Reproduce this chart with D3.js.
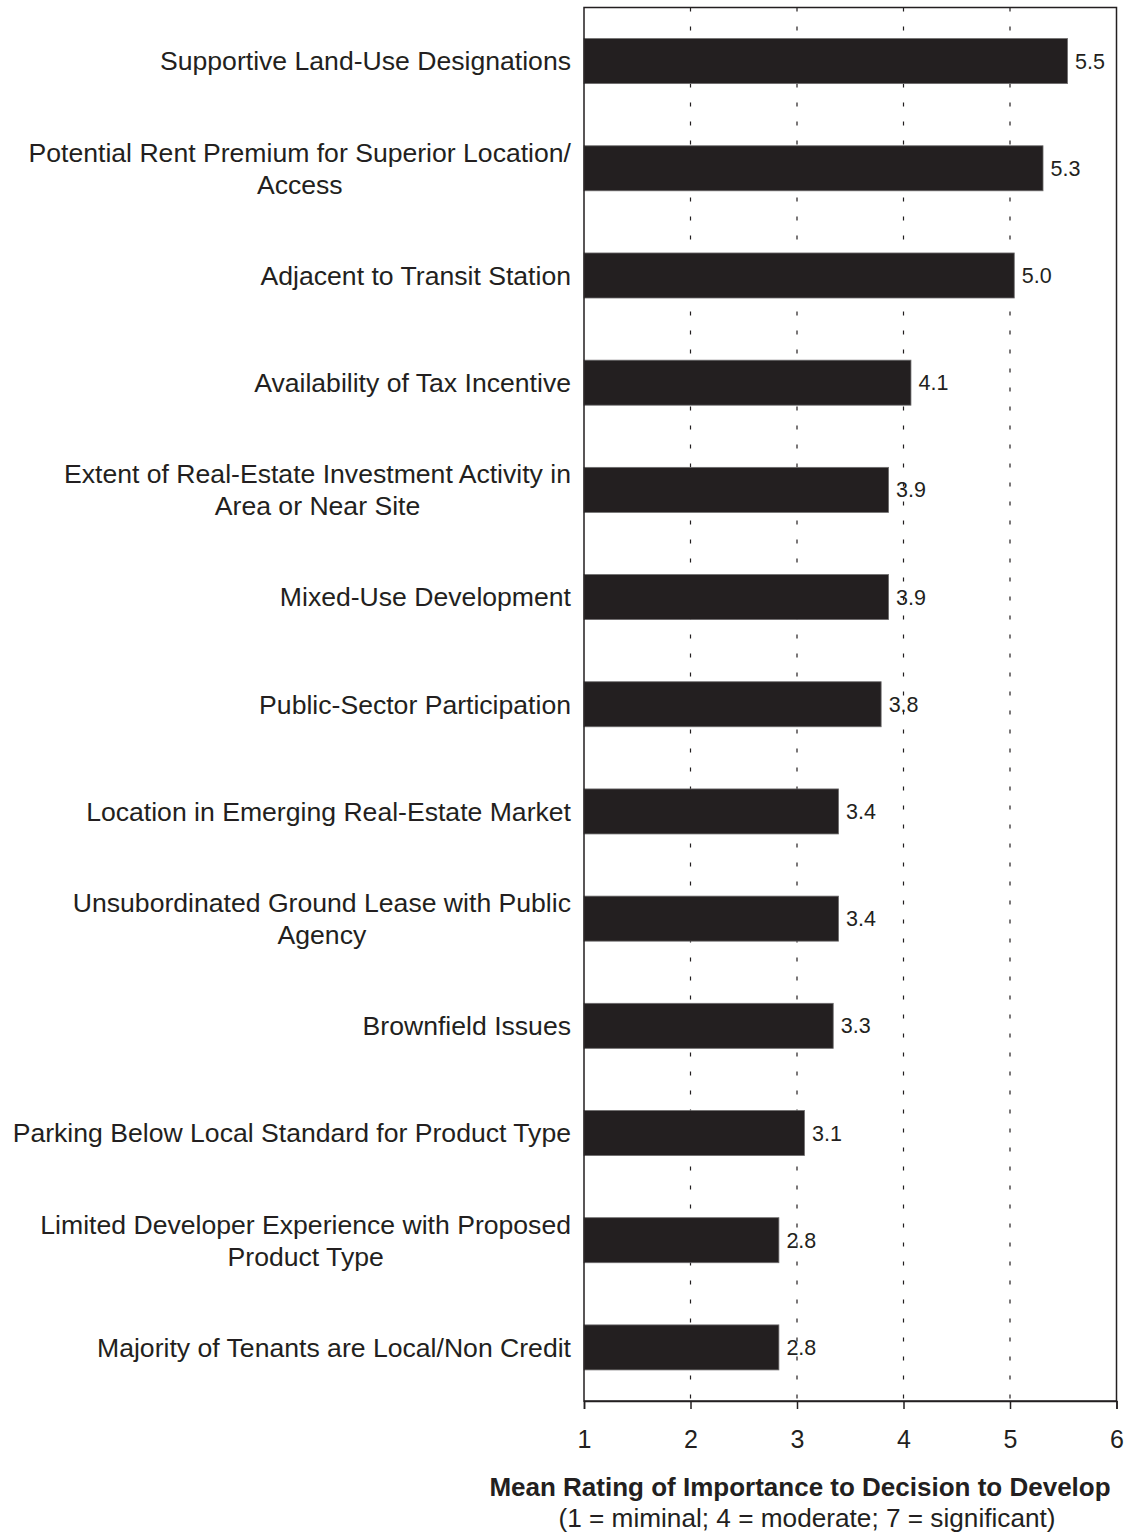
<!DOCTYPE html>
<html>
<head>
<meta charset="utf-8">
<script src="https://cdn.jsdelivr.net/npm/d3@7"></script>
<style>
  html, body { margin: 0; padding: 0; background: #fff; }
  svg { display: block; font-family: "Liberation Sans", Arial, sans-serif; }
</style>
</head>
<body>
<svg id="chart" width="1130" height="1534"></svg>
<script>
// Factors rated by developers, top to bottom; "\n" marks a line break in the label
const categories = [
  "Supportive Land-Use Designations",
  "Potential Rent Premium for Superior Location/\nAccess",
  "Adjacent to Transit Station",
  "Availability of Tax Incentive",
  "Extent of Real-Estate Investment Activity in\nArea or Near Site",
  "Mixed-Use Development",
  "Public-Sector Participation",
  "Location in Emerging Real-Estate Market",
  "Unsubordinated Ground Lease with Public\nAgency",
  "Brownfield Issues",
  "Parking Below Local Standard for Product Type",
  "Limited Developer Experience with Proposed\nProduct Type",
  "Majority of Tenants are Local/Non Credit"
];

// Mean ratings (shown to one decimal)
const meanRatings = [5.54, 5.31, 5.04, 4.07, 3.86, 3.86, 3.79, 3.39, 3.39, 3.34, 3.07, 2.83, 2.83];

const xTicks = [1, 2, 3, 4, 5, 6];
const gridTicks = [2, 3, 4, 5];
const axisTitle = "Mean Rating of Importance to Decision to Develop";
const axisSubtitle = "(1 = miminal; 4 = moderate; 7 = significant)";

const ink = "#231f20";
const svg = d3.select("#chart");

const plot = { left: 584, right: 1116.5, top: 7.5, bottom: 1401 };

const x = d3.scaleLinear().domain([1, 6]).range([plot.left, plot.right]);
const y = d3.scaleBand().domain(categories).range([plot.top, plot.bottom]).paddingInner(0.58).paddingOuter(0.29);

// Dotted vertical gridlines
svg.append("g")
  .selectAll("line")
  .data(gridTicks)
  .join("line")
  .attr("x1", d => x(d)).attr("x2", d => x(d))
  .attr("y1", plot.top).attr("y2", plot.bottom)
  .attr("stroke", ink)
  .attr("stroke-width", 1.2)
  .attr("stroke-dasharray", "4,15");

// Bars
svg.append("g")
  .selectAll("rect")
  .data(categories)
  .join("rect")
  .attr("x", x(1))
  .attr("y", d => y(d))
  .attr("width", (d, i) => x(meanRatings[i]) - x(1))
  .attr("height", y.bandwidth())
  .attr("fill", ink)
  .attr("stroke", "#6d6b6c")
  .attr("stroke-width", 0.8);

// Value labels
const fmt = d3.format(".1f");
svg.append("g")
  .selectAll("text")
  .data(categories)
  .join("text")
  .attr("x", (d, i) => x(meanRatings[i]) + 7.5)
  .attr("y", d => y(d) + y.bandwidth() / 2)
  .attr("dy", "0.35em")
  .attr("fill", ink)
  .attr("font-size", 21.5)
  .text((d, i) => fmt(meanRatings[i]));

// Plot frame
svg.append("rect")
  .attr("x", plot.left).attr("y", plot.top)
  .attr("width", plot.right - plot.left)
  .attr("height", plot.bottom - plot.top)
  .attr("fill", "none")
  .attr("stroke", ink)
  .attr("stroke-width", 1.5);

// Bottom axis
const xAxis = svg.append("g")
  .attr("transform", `translate(0,${plot.bottom})`)
  .call(d3.axisBottom(x).tickValues(xTicks).tickFormat(d3.format("d")).tickSize(8).tickPadding(21));
xAxis.select(".domain").attr("stroke", ink).attr("stroke-width", 1.5);
xAxis.selectAll(".tick line").attr("stroke", ink).attr("stroke-width", 1.5);
xAxis.selectAll(".tick text")
  .attr("fill", ink)
  .attr("font-size", 25)
  .attr("font-family", "Liberation Sans, Arial, sans-serif");

// Category labels, right-aligned next to the plot
const labelX = 571;
const labels = svg.append("g")
  .selectAll("text")
  .data(categories)
  .join("text")
  .attr("fill", ink)
  .attr("font-size", 26.6);

labels.each(function(d) {
  const lines = d.split("\n");
  const lh = 32;
  const cy = y(d) + y.bandwidth() / 2;
  const start = cy - (lines.length - 1) * lh / 2;
  d3.select(this).selectAll("tspan")
    .data(lines)
    .join("tspan")
    .attr("x", labelX)
    .attr("y", (l, j) => start + j * lh)
    .attr("dy", "0.35em")
    .attr("text-anchor", (l, j) => j === 0 ? "end" : "middle")
    .text(l => l);
});

// Second lines are centred under the first line
labels.each(function() {
  const spans = d3.select(this).selectAll("tspan").nodes();
  if (spans.length > 1) {
    const w = spans[0].getComputedTextLength();
    spans.slice(1).forEach(s => d3.select(s).attr("x", labelX - w / 2));
  }
});

// Axis title
svg.append("text")
  .attr("x", 800).attr("y", 1487)
  .attr("dy", "0.35em")
  .attr("text-anchor", "middle")
  .attr("font-weight", "bold")
  .attr("font-size", 26)
  .attr("fill", ink)
  .text(axisTitle);

svg.append("text")
  .attr("x", 807).attr("y", 1518)
  .attr("dy", "0.35em")
  .attr("text-anchor", "middle")
  .attr("font-size", 26.2)
  .attr("fill", ink)
  .text(axisSubtitle);
</script>
</body>
</html>
